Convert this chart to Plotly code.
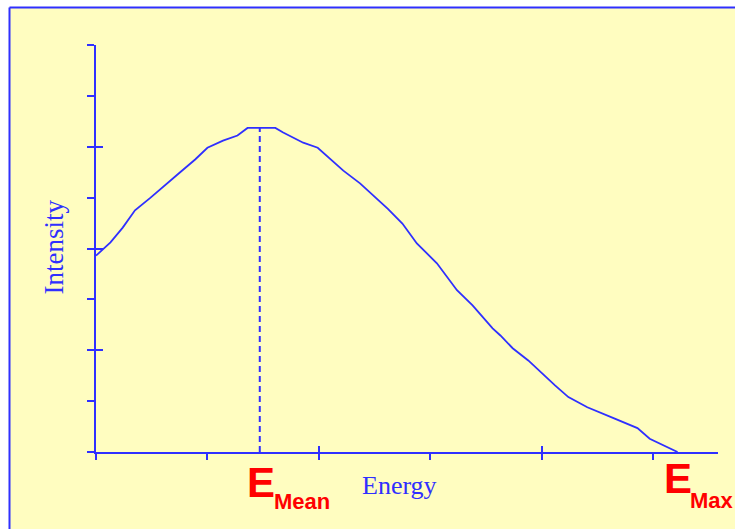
import plotly.graph_objects as go

# Spectrum data (x in tick units of energy, y in tick units of intensity)
energy = [0.0, 0.13, 0.24, 0.35, 0.49, 0.64, 0.75, 0.89, 1.0, 1.14, 1.27, 1.36,
          1.61, 1.68, 1.86, 1.99, 2.10, 2.22, 2.37, 2.49, 2.62, 2.75, 2.88, 3.06,
          3.24, 3.38, 3.56, 3.63, 3.74, 3.88, 3.99, 4.12, 4.24, 4.41, 4.64, 4.86,
          4.97, 5.10, 5.22]
intensity = [3.86, 4.12, 4.41, 4.75, 5.0, 5.29, 5.49, 5.75, 5.98, 6.12, 6.22, 6.37,
             6.37, 6.28, 6.08, 5.98, 5.77, 5.53, 5.28, 5.04, 4.78, 4.49, 4.10, 3.71,
             3.18, 2.88, 2.43, 2.29, 2.04, 1.80, 1.57, 1.31, 1.08, 0.88, 0.67, 0.47,
             0.26, 0.12, 0.0]
e_mean = 1.47
peak = 6.37

BLUE = "#2f2fff"
RED = "#ff0000"
BG = "#fffdc0"

fig = go.Figure()
fig.add_trace(go.Scatter(x=energy, y=intensity, mode="lines",
                         line=dict(color=BLUE, width=1.8), hoverinfo="skip",
                         showlegend=False))
fig.add_trace(go.Scatter(x=[e_mean, e_mean], y=[0, peak], mode="lines",
                         line=dict(color=BLUE, width=2, dash="6px,4px"),
                         hoverinfo="skip", showlegend=False))
# overlay axes for crossing ticks
fig.add_trace(go.Scatter(x=[None], y=[None], xaxis="x2", yaxis="y2",
                         showlegend=False, hoverinfo="skip"))

xr = [0, 5.583]
yr = [0, 8]
common = dict(showgrid=False, zeroline=False, showticklabels=False,
              tickcolor=BLUE, tickwidth=2, fixedrange=True)

fig.update_layout(
    width=735, height=529,
    margin=dict(l=96, r=17, t=45, b=77),
    paper_bgcolor=BG,
    plot_bgcolor="rgba(0,0,0,0)",
    xaxis=dict(range=xr, tick0=0, dtick=1, ticks="outside", ticklen=6,
               showline=True, linecolor=BLUE, linewidth=2, **common),
    yaxis=dict(range=yr, tick0=0, dtick=1, ticks="outside", ticklen=7,
               showline=True, linecolor=BLUE, linewidth=2, **common),
    xaxis2=dict(range=xr, tick0=0, dtick=2, ticks="inside", ticklen=6,
                overlaying="x", side="bottom", anchor="y2", showline=False, **common),
    yaxis2=dict(range=yr, tick0=0, dtick=2, ticks="inside", ticklen=7,
                overlaying="y", side="left", anchor="x2", showline=False, **common),
    shapes=[
        # white page margin strips
        dict(type="rect", xref="paper", yref="paper", layer="below",
             x0=-0.2, x1=1.1, y0=1.0921, y1=1.13, fillcolor="white", line=dict(width=0)),
        dict(type="rect", xref="paper", yref="paper", layer="below",
             x0=-0.2, x1=-0.13907, y0=-0.25, y1=1.13, fillcolor="white", line=dict(width=0)),
        # blue border
        dict(type="line", xref="paper", yref="paper", layer="below",
             x0=-0.13907, x1=1.1, y0=1.0921, y1=1.0921,
             line=dict(color=BLUE, width=2)),
        dict(type="line", xref="paper", yref="paper", layer="below",
             x0=-0.13907, x1=-0.13907, y0=1.0921, y1=-0.25,
             line=dict(color=BLUE, width=2)),
    ],
    annotations=[
        dict(text="Intensity", xref="paper", yref="paper", x=-0.0675, y=0.5025,
             textangle=-90, showarrow=False, xanchor="center", yanchor="middle",
             font=dict(family="Liberation Serif, Times New Roman, serif", size=27, color=BLUE)),
        dict(text="Energy", xref="paper", yref="paper", x=0.4887, y=-0.083,
             showarrow=False, xanchor="center", yanchor="middle",
             font=dict(family="Liberation Serif, Times New Roman, serif", size=26, color=BLUE)),
        dict(text="<b>E</b>", xref="paper", yref="paper", x=0.2653, y=-0.075,
             showarrow=False, xanchor="center", yanchor="middle",
             font=dict(family="Liberation Sans Narrow, Liberation Sans, Arial, sans-serif", size=42, color=RED)),
        dict(text="<b>Mean</b>", xref="paper", yref="paper", x=0.283, y=-0.122,
             showarrow=False, xanchor="left", yanchor="middle",
             font=dict(family="Liberation Sans, Arial, sans-serif", size=22, color=RED)),
        dict(text="<b>E</b>", xref="paper", yref="paper", x=0.9357, y=-0.066,
             showarrow=False, xanchor="center", yanchor="middle",
             font=dict(family="Liberation Sans Narrow, Liberation Sans, Arial, sans-serif", size=42, color=RED)),
        dict(text="<b>Max</b>", xref="paper", yref="paper", x=0.9518, y=-0.12,
             showarrow=False, xanchor="left", yanchor="middle",
             font=dict(family="Liberation Sans, Arial, sans-serif", size=22, color=RED)),
    ],
)

fig.write_html("out.html", config={"displayModeBar": False},
               post_script="document.body.style.margin='0';document.body.style.overflow='hidden';")
